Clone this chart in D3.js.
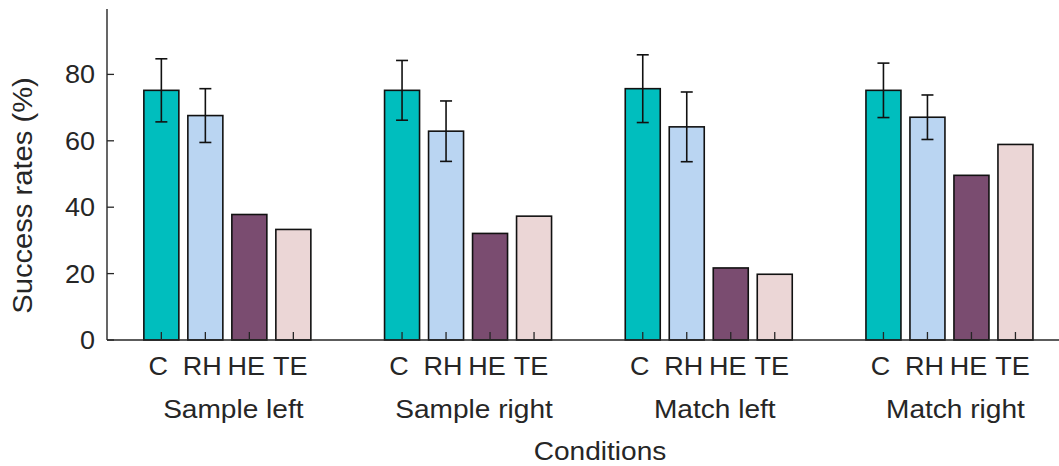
<!DOCTYPE html>
<html>
<head>
<meta charset="utf-8">
<script src="https://cdn.jsdelivr.net/npm/d3@7"></script>
<style>
  html, body { margin: 0; padding: 0; background: #fff; }
  svg text { font-family: "Liberation Sans", Arial, Helvetica, sans-serif; fill: #262626; }
</style>
</head>
<body>
<svg id="chart" width="1059" height="466"></svg>
<script>
// ---- data ----
const conditions = ["Sample left", "Sample right", "Match left", "Match right"];
const groups = ["C", "RH", "HE", "TE"];
const valuesC  = [75.2, 75.2, 75.7, 75.2];
const valuesRH = [67.6, 62.9, 64.2, 67.1];
const valuesHE = [37.8, 32.1, 21.7, 49.6];
const valuesTE = [33.3, 37.3, 19.8, 58.9];
const errC  = [9.5, 9.0, 10.2, 8.2];
const errRH = [8.1, 9.1, 10.5, 6.7];
const errHE = [null, null, null, null];
const errTE = [null, null, null, null];
const yTicks = [0, 20, 40, 60, 80];
const yLabel = "Success rates (%)";
const xLabel = "Conditions";

const seriesValues = [valuesC, valuesRH, valuesHE, valuesTE];
const seriesErr = [errC, errRH, errHE, errTE];
const colors = ["#00bebe", "#bad5f2", "#7a4c70", "#ebd6d6"];

const rows = [];
conditions.forEach((c, gi) => {
  groups.forEach((g, si) => {
    rows.push({ cond: c, gi: gi + 1, si, group: g, value: seriesValues[si][gi], err: seriesErr[si][gi] });
  });
});

// ---- layout ----
const svg = d3.select("#chart");
const x = d3.scaleLinear().domain([0.5, 4.5]).range([107, 1069.8]);
const y = d3.scaleLinear().domain([0, 100]).range([340, 8]);
const barStep = 0.1828, barW = 0.1454;
const bx = d => x(d.gi + (d.si - 1.5) * barStep);
const halfW = (x(barW) - x(0)) / 2;
const axisColor = "#262626";
const sx = 1.08;

// bars
svg.append("g").selectAll("rect").data(rows).join("rect")
  .attr("x", d => bx(d) - halfW)
  .attr("width", halfW * 2)
  .attr("y", d => y(d.value))
  .attr("height", d => y(0) - y(d.value))
  .attr("fill", d => colors[d.si])
  .attr("stroke", "#111")
  .attr("stroke-width", 1.6);

// x tick marks (inward)
svg.append("g").selectAll("line").data(rows).join("line")
  .attr("x1", bx).attr("x2", bx)
  .attr("y1", y(0)).attr("y2", y(0) - 8)
  .attr("stroke", axisColor).attr("stroke-width", 1.3);

// error bars
const eb = rows.filter(d => d.err != null);
const capW = 6;
const ge = svg.append("g").attr("stroke", "#111").attr("stroke-width", 1.6);
ge.selectAll("line.v").data(eb).join("line").attr("class", "v")
  .attr("x1", bx).attr("x2", bx)
  .attr("y1", d => y(d.value + d.err)).attr("y2", d => y(d.value - d.err));
ge.selectAll("line.t").data(eb).join("line").attr("class", "t")
  .attr("x1", d => bx(d) - capW).attr("x2", d => bx(d) + capW)
  .attr("y1", d => y(d.value + d.err)).attr("y2", d => y(d.value + d.err));
ge.selectAll("line.b").data(eb).join("line").attr("class", "b")
  .attr("x1", d => bx(d) - capW).attr("x2", d => bx(d) + capW)
  .attr("y1", d => y(d.value - d.err)).attr("y2", d => y(d.value - d.err));

// axes lines
svg.append("line").attr("x1", x(0.5)).attr("x2", 1059).attr("y1", y(0)).attr("y2", y(0))
  .attr("stroke", axisColor).attr("stroke-width", 1.4);
svg.append("line").attr("x1", x(0.5)).attr("x2", x(0.5)).attr("y1", y(0)).attr("y2", 9)
  .attr("stroke", axisColor).attr("stroke-width", 1.4);

// y ticks (inward) and labels
const gy = svg.append("g");
gy.selectAll("line").data(yTicks).join("line")
  .attr("x1", x(0.5)).attr("x2", x(0.5) + 7)
  .attr("y1", d => y(d)).attr("y2", d => y(d))
  .attr("stroke", axisColor).attr("stroke-width", 1.3);
gy.selectAll("text").data(yTicks).join("text")
  .attr("transform", d => `translate(95,${y(d) + 9}) scale(${sx},1)`)
  .attr("text-anchor", "end")
  .attr("font-size", 25)
  .text(d => d);

// x category labels
svg.append("g").selectAll("text").data(rows).join("text")
  .attr("transform", d => `translate(${bx(d) - 3},375) scale(${sx},1)`)
  .attr("text-anchor", "middle")
  .attr("font-size", 25)
  .text(d => d.group);

// condition labels
svg.append("g").selectAll("text").data(conditions).join("text")
  .attr("transform", (d, i) => `translate(${x(i + 1) + 6},418) scale(${sx},1)`)
  .attr("text-anchor", "middle")
  .attr("font-size", 26)
  .text(d => d);

// axis titles
svg.append("text")
  .attr("transform", `translate(600,460) scale(${sx},1)`)
  .attr("text-anchor", "middle")
  .attr("font-size", 26)
  .text(xLabel);
svg.append("text")
  .attr("transform", `translate(32,195.5) rotate(-90) scale(${sx},1)`)
  .attr("text-anchor", "middle")
  .attr("font-size", 27)
  .text(yLabel);
</script>
</body>
</html>
